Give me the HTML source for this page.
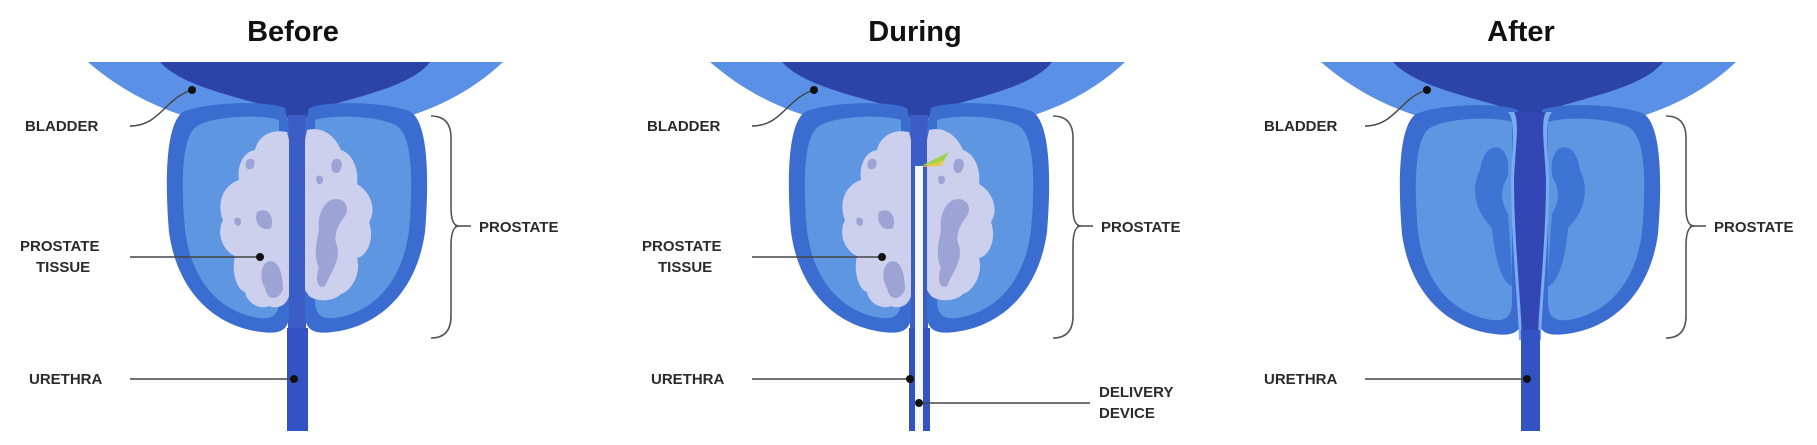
<!DOCTYPE html>
<html><head><meta charset="utf-8"><style>
html,body{margin:0;padding:0;background:#fff;}
svg{display:block;}
text{font-family:"Liberation Sans",sans-serif;font-weight:bold;fill:#2b2b2b;}
.lb{font-size:15px;}
.tt{font-size:29px;fill:#111;}
</style></head><body>
<svg width="1817" height="445" viewBox="0 0 1817 445" xmlns="http://www.w3.org/2000/svg">
<defs>
<g id="bladder">
  <path d="M-209,62 H206 C170,96 120,120 60,127 L-60,127 C-120,120 -170,96 -209,62 Z" fill="#5a90e6"/>
  <path d="M-137,62 H133 C112,90 40,100 14,112 C7,118 7,125 7,134 L-7,134 C-7,125 -7,118 -14,112 C-40,100 -112,90 -137,62 Z" fill="#2c43a8"/>
</g>
<g id="lobeL">
  <path d="M-12,108 C-30,100 -92,102 -114,112 C-132,124 -132,184 -128,232 C-120,290 -84,326 -36,332 C-14,335 -8,328 -8,314 L-8,126 Z" fill="#3b6cd0"/>
  <path d="M-18,120 C-36,114 -84,116 -100,126 C-116,136 -116,186 -112,230 C-106,280 -78,312 -38,318 C-22,320 -18,312 -18,300 Z" fill="#5f96e2"/>
</g>
<g id="lobeR"><use href="#lobeL" transform="scale(-1,1)"/></g>
<g id="tissue">
  <path d="M-10,132 C-30,128 -40,140 -42,150 C-55,152 -60,168 -58,180 C-76,186 -80,206 -74,220 C-82,236 -72,252 -62,256 C-66,272 -60,290 -52,292 C-50,304 -36,310 -28,306 C-18,310 -10,304 -8,296 L-8,140 Z" fill="#ccd0ec"/>
  <path d="M10,130 C26,126 38,136 44,150 C56,154 62,170 60,184 C74,192 80,210 72,222 C78,240 70,256 60,258 C64,272 56,290 44,294 C36,302 20,302 12,296 L8,290 L8,140 Z" fill="#ccd0ec"/>
  <path d="M-30,262 C-20,258 -14,270 -14,290 C-20,302 -30,300 -32,288 C-38,278 -36,266 -30,262Z" fill="#9ea3d6"/>
  <path d="M-40,212 C-30,206 -22,216 -26,228 C-34,232 -44,224 -40,212Z" fill="#9ea3d6"/>
  <path d="M-50,160 C-44,156 -40,162 -44,168 C-50,172 -54,166 -50,160Z" fill="#9ea3d6"/>
  <path d="M-62,218 C-56,216 -54,222 -58,226 C-62,226 -64,222 -62,218Z" fill="#9ea3d6"/>
  <path d="M34,200 C46,196 54,206 48,216 C40,226 36,236 40,246 C44,260 34,272 28,286 C20,290 18,278 22,268 C16,256 20,240 22,230 C20,216 26,204 34,200Z" fill="#9ea3d6"/>
  <path d="M36,160 C44,156 48,164 42,172 C36,176 32,168 36,160Z" fill="#9ea3d6"/>
  <path d="M20,176 C26,174 28,180 24,184 C20,186 18,180 20,176Z" fill="#9ea3d6"/>
</g>
<g id="before">
  <use href="#bladder"/>
  <rect x="-9" y="115" width="18" height="225" fill="#3c5cc6"/>
  <use href="#lobeL"/><use href="#lobeR"/>
  <use href="#tissue"/>
  <rect x="-10" y="328" width="21" height="103" fill="#3353c4"/>
</g>
<g id="brace">
  <path d="M0,0 Q20,0 20,22 V92 Q20,110 28,110 Q20,110 20,130 V200 Q20,222 0,222" fill="none" stroke="#555" stroke-width="1.6"/>
  <line x1="24" y1="110" x2="40" y2="110" stroke="#555" stroke-width="1.6"/>
</g>
</defs>

<!-- BEFORE -->
<text class="tt" x="293" y="41" text-anchor="middle">Before</text>
<g transform="translate(297,0)"><use href="#before"/></g>
<text class="lb" x="25" y="131">BLADDER</text>
<path d="M130,126 C160,126 165,98 192,90" fill="none" stroke="#444" stroke-width="1.4"/>
<circle cx="192" cy="90" r="4" fill="#111"/>
<text class="lb" x="20" y="251">PROSTATE</text>
<text class="lb" x="36" y="272">TISSUE</text>
<line x1="130" y1="257" x2="260" y2="257" stroke="#444" stroke-width="1.4"/>
<circle cx="260" cy="257" r="4" fill="#111"/>
<text class="lb" x="29" y="384">URETHRA</text>
<line x1="130" y1="379" x2="294" y2="379" stroke="#444" stroke-width="1.4"/>
<circle cx="294" cy="379" r="4" fill="#111"/>
<g transform="translate(431,116)"><use href="#brace"/></g>
<text class="lb" x="479" y="232">PROSTATE</text>

<!-- DURING -->
<text class="tt" x="915" y="41" text-anchor="middle">During</text>
<g transform="translate(919,0)"><use href="#before"/>
  <rect x="-4" y="166" width="8" height="265" fill="#f4f6fc"/>
  <path d="M2,166 L30,152 L24,162 Z" fill="#9bd44a"/>
  <path d="M2,167 L26,160 L22,166 Z" fill="#e8c84a"/>
</g>
<text class="lb" x="647" y="131">BLADDER</text>
<path d="M752,126 C782,126 787,98 814,90" fill="none" stroke="#444" stroke-width="1.4"/>
<circle cx="814" cy="90" r="4" fill="#111"/>
<text class="lb" x="642" y="251">PROSTATE</text>
<text class="lb" x="658" y="272">TISSUE</text>
<line x1="752" y1="257" x2="882" y2="257" stroke="#444" stroke-width="1.4"/>
<circle cx="882" cy="257" r="4" fill="#111"/>
<text class="lb" x="651" y="384">URETHRA</text>
<line x1="752" y1="379" x2="910" y2="379" stroke="#444" stroke-width="1.4"/>
<circle cx="910" cy="379" r="4" fill="#111"/>
<line x1="919" y1="403" x2="1090" y2="403" stroke="#444" stroke-width="1.4"/>
<circle cx="919" cy="403" r="4" fill="#111"/>
<text class="lb" x="1099" y="397">DELIVERY</text>
<text class="lb" x="1099" y="418">DEVICE</text>
<g transform="translate(1053,116)"><use href="#brace"/></g>
<text class="lb" x="1101" y="232">PROSTATE</text>

<!-- AFTER -->
<text class="tt" x="1521" y="41" text-anchor="middle">After</text>
<g transform="translate(1530,0)">
  <use href="#bladder"/>
  <g transform="translate(0,2)">
    <use href="#lobeL"/><use href="#lobeR"/>
  </g>
  <path d="M-38,148 C-26,144 -20,158 -22,176 C-30,190 -30,200 -22,214 C-20,240 -18,270 -18,286 C-28,284 -36,256 -38,228 C-54,212 -60,190 -50,170 C-48,158 -44,150 -38,148 Z" fill="#3e74d4"/>
  <path d="M38,148 C26,144 20,158 22,176 C30,190 30,200 22,214 C20,240 18,270 18,286 C28,284 36,256 38,228 C54,212 60,190 50,170 C48,158 44,150 38,148 Z" fill="#3e74d4"/>
  <path d="M-22,112 C-14,120 -18,150 -19,180 C-19,240 -12,300 -11,340 L11,340 C12,300 19,240 19,180 C18,150 14,120 22,112 Z" fill="#7aaaf0"/>
  <path d="M-16,112 C-10,122 -15,150 -16,180 C-16,240 -9,300 -8,340 L8,340 C9,300 16,240 16,180 C15,150 10,122 16,112 Z" fill="#3347b4"/>
  <rect x="-9" y="330" width="19" height="101" fill="#3353c4"/>
</g>
<text class="lb" x="1264" y="131">BLADDER</text>
<path d="M1365,126 C1395,126 1400,98 1427,90" fill="none" stroke="#444" stroke-width="1.4"/>
<circle cx="1427" cy="90" r="4" fill="#111"/>
<text class="lb" x="1264" y="384">URETHRA</text>
<line x1="1365" y1="379" x2="1527" y2="379" stroke="#444" stroke-width="1.4"/>
<circle cx="1527" cy="379" r="4" fill="#111"/>
<g transform="translate(1666,116)"><use href="#brace"/></g>
<text class="lb" x="1714" y="232">PROSTATE</text>
</svg>
</body></html>
